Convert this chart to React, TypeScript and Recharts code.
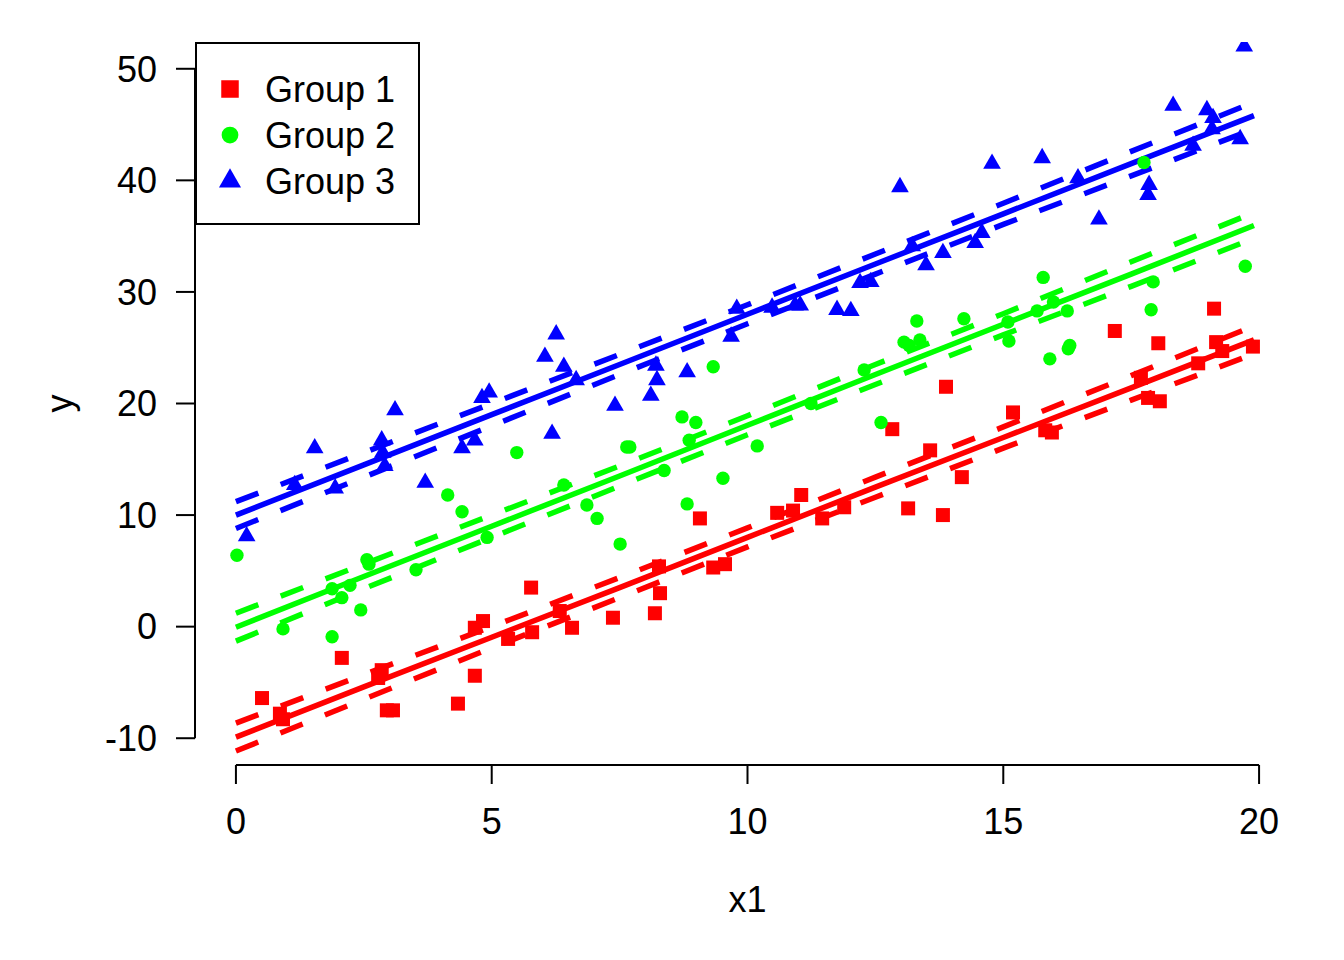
import { ScatterChart, Scatter, XAxis, YAxis, ReferenceLine, Legend } from 'recharts';

const FONT = '"Liberation Sans", Arial, sans-serif';
const FS = 36;

const xTicks = [0, 5, 10, 15, 20];
const yTicks = [-10, 0, 10, 20, 30, 40, 50];

const group1Points = [
  [0.51, -6.4], [0.86, -7.8], [0.92, -8.3], [2.07, -2.8], [2.85, -3.9], [2.78, -4.6],
  [2.95, -7.5], [3.07, -7.5], [4.34, -6.9], [4.67, -4.4], [4.67, -0.1], [4.83, 0.5],
  [5.32, -1.1], [5.77, 3.5], [5.79, -0.5], [6.33, 1.4], [6.57, -0.1], [7.37, 0.8],
  [8.19, 1.2], [8.29, 3.0], [8.27, 5.4], [9.07, 9.7], [9.33, 5.3], [9.56, 5.6],
  [10.58, 10.2], [10.89, 10.4], [11.05, 11.8], [11.46, 9.7], [11.89, 10.7], [12.83, 17.7],
  [13.14, 10.6], [13.57, 15.8], [13.82, 10.0], [13.88, 21.5], [14.19, 13.4], [15.19, 19.2],
  [15.82, 17.6], [15.95, 17.4], [17.18, 26.5], [17.69, 22.3], [17.83, 20.5], [18.03, 25.4],
  [18.06, 20.2], [18.81, 23.6], [19.12, 28.5], [19.16, 25.5], [19.28, 24.7], [19.88, 25.1],
];

const group2Points = [
  [0.02, 6.4], [0.92, -0.2], [1.88, -0.9], [2.44, 1.5], [1.88, 3.4], [2.07, 2.6],
  [2.23, 3.7], [2.56, 6.0], [2.6, 5.6], [3.52, 5.1], [4.14, 11.8], [4.42, 10.3],
  [4.91, 8.0], [5.49, 15.6], [6.41, 12.7], [6.86, 10.9], [7.06, 9.7], [7.51, 7.4],
  [7.64, 16.1], [7.7, 16.1], [8.37, 14.0], [8.72, 18.8], [8.99, 18.3], [8.86, 16.7],
  [8.82, 11.0], [9.33, 23.3], [9.52, 13.3], [10.19, 16.2], [11.24, 20.0], [12.28, 23.0],
  [12.61, 18.3], [13.06, 25.5], [13.16, 25.2], [13.37, 25.7], [13.31, 27.4], [14.23, 27.6],
  [15.09, 27.3], [15.11, 25.6], [15.78, 31.3], [15.98, 29.1], [15.66, 28.3], [16.25, 28.3],
  [15.91, 24.0], [16.27, 24.9], [16.3, 25.2], [17.93, 30.9], [17.89, 28.4], [17.75, 41.6],
  [19.73, 32.3],
];

const group3Points = [
  [0.21, 8.1], [1.15, 12.7], [1.54, 16.0], [1.94, 12.4], [2.85, 16.7], [2.87, 15.6],
  [2.91, 14.4], [3.11, 19.4], [3.7, 12.9], [4.42, 16.0], [4.67, 16.7], [4.81, 20.5],
  [4.95, 21.0], [6.04, 24.2], [6.18, 17.3], [6.26, 26.2], [6.41, 23.3], [6.65, 22.1],
  [7.41, 19.8], [8.11, 20.7], [8.23, 22.1], [8.21, 23.4], [8.82, 22.8], [9.68, 26.0],
  [9.79, 28.5], [10.48, 28.6], [10.93, 28.8], [11.03, 28.8], [11.75, 28.4], [12.02, 28.3],
  [12.2, 30.8], [12.41, 30.9], [12.98, 39.4], [13.22, 34.1], [13.49, 32.4], [13.82, 33.5],
  [14.45, 34.4], [14.58, 35.3], [14.78, 41.5], [15.76, 42.0], [16.46, 40.2], [16.87, 36.5],
  [17.83, 38.7], [17.85, 39.6], [18.32, 46.7], [18.71, 43.1], [18.98, 46.3], [19.1, 45.6],
  [19.08, 44.6], [19.63, 43.7], [19.71, 52.0],
];

const fitX = [0, 2.5, 5, 7.5, 10, 12.5, 15, 17.5, 19.9];
const group1Fit = [-9.9, -5.4, -0.95, 3.5, 8.0, 12.5, 16.95, 21.4, 25.7];
const group1Upper = [-8.65, -4.3, 0.0, 4.4, 8.85, 13.4, 17.9, 22.5, 26.95];
const group1Lower = [-11.15, -6.5, -1.9, 2.6, 7.15, 11.6, 16.0, 20.3, 24.45];
const group2Fit = [-0.05, 4.5, 9.0, 13.5, 18.05, 22.6, 27.1, 31.6, 35.95];
const group2Upper = [1.2, 5.6, 10.0, 14.4, 18.9, 23.5, 28.05, 32.7, 37.1];
const group2Lower = [-1.3, 3.4, 8.0, 12.6, 17.2, 21.7, 26.15, 30.5, 34.8];
const group3Fit = [10.0, 14.5, 19.0, 23.5, 28.0, 32.5, 37.0, 41.5, 45.8];
const group3Upper = [11.2, 15.6, 20.0, 24.4, 28.85, 33.4, 37.95, 42.6, 47.0];
const group3Lower = [8.8, 13.4, 18.0, 22.6, 27.15, 31.6, 36.05, 40.4, 44.6];

const groups = [
  { name: 'Group 1', color: '#FF0000', symbol: 'square', points: group1Points, fit: group1Fit, upper: group1Upper, lower: group1Lower },
  { name: 'Group 2', color: '#00FF00', symbol: 'circle', points: group2Points, fit: group2Fit, upper: group2Upper, lower: group2Lower },
  { name: 'Group 3', color: '#0000FF', symbol: 'triangle', points: group3Points, fit: group3Fit, upper: group3Upper, lower: group3Lower },
];

const toXY = (pts: number[][]) => pts.map(([x, y]) => ({ x, y }));
const toLine = (ys: number[]) => fitX.map((x, i) => ({ x, y: ys[i] }));

function Marker({ kind, cx, cy, color, scale = 1 }: any) {
  if (kind === 'square') {
    const h = 7 * scale;
    return <rect x={cx - h} y={cy - h} width={2 * h} height={2 * h} fill={color} />;
  }
  if (kind === 'circle') {
    return <circle cx={cx} cy={cy} r={6.7 * scale} fill={color} />;
  }
  const r = 10.2 * scale;
  const w = r * 0.866;
  return <polygon points={`${cx},${cy - r} ${cx + w},${cy + r / 2} ${cx - w},${cy + r / 2}`} fill={color} />;
}

function LegendBox() {
  return (
    <svg width={225} height={183} style={{ display: 'block' }}>
      <rect x={1} y={1} width={223} height={181} fill="white" stroke="black" strokeWidth={2} />
      {groups.map((g, i) => (
        <g key={g.name}>
          <Marker kind={g.symbol} cx={35} cy={47 + i * 46} color={g.color} scale={1.25} />
          <text x={70} y={47 + i * 46 + 13} fontSize={FS} fontFamily={FONT} fill="black">
            {g.name}
          </text>
        </g>
      ))}
    </svg>
  );
}

function YLabel({ viewBox }: any) {
  const cx = 72;
  const cy = viewBox.y + viewBox.height / 2;
  return (
    <text x={cx} y={cy} transform={`rotate(-90, ${cx}, ${cy})`} textAnchor="middle" fontSize={FS} fontFamily={FONT} fill="black">
      y
    </text>
  );
}

const tickStyle = { fill: 'black', fontSize: FS, fontFamily: FONT };
const LW = 5.5;

export default function App() {
  return (
    <div style={{ position: 'absolute', left: 0, top: 0, background: 'white' }}>
      <ScatterChart width={1344} height={960} margin={{ top: 42, right: 44, bottom: 0, left: 0 }}>
        <XAxis
          type="number"
          dataKey="x"
          domain={[-0.8, 20.8]}
          ticks={xTicks}
          allowDataOverflow
          axisLine={false}
          tickLine={{ stroke: 'black', strokeWidth: 2 }}
          tickSize={19}
          tickMargin={24}
          tick={tickStyle}
          height={195}
          label={{ value: 'x1', position: 'insideBottom', offset: 48, fontSize: FS, fontFamily: FONT, fill: 'black' }}
        />
        <YAxis
          type="number"
          dataKey="y"
          domain={[-12.4, 52.4]}
          ticks={yTicks}
          allowDataOverflow
          axisLine={false}
          tickLine={{ stroke: 'black', strokeWidth: 2 }}
          tickSize={19}
          tickMargin={19}
          tick={tickStyle}
          width={195}
          label={{ content: (p: any) => <YLabel {...p} /> }}
        />
        <ReferenceLine
          segment={[{ x: 0, y: -12.4 }, { x: 20, y: -12.4 }]}
          stroke="black"
          strokeWidth={2}
          ifOverflow="visible"
        />
        <ReferenceLine
          segment={[{ x: -0.8, y: -10 }, { x: -0.8, y: 50 }]}
          stroke="black"
          strokeWidth={2}
          ifOverflow="visible"
        />
        {groups.map((g) => [
          <Scatter
            key={g.name + '-fit'}
            data={toLine(g.fit)}
            fill={g.color}
            line={{ stroke: g.color, strokeWidth: LW }}
            shape={() => <g />}
            legendType="none"
            isAnimationActive={false}
          />,
          <Scatter
            key={g.name + '-up'}
            data={toLine(g.upper)}
            fill={g.color}
            line={{ stroke: g.color, strokeWidth: LW, strokeDasharray: '24 24' }}
            shape={() => <g />}
            legendType="none"
            isAnimationActive={false}
          />,
          <Scatter
            key={g.name + '-lo'}
            data={toLine(g.lower)}
            fill={g.color}
            line={{ stroke: g.color, strokeWidth: LW, strokeDasharray: '24 24' }}
            shape={() => <g />}
            legendType="none"
            isAnimationActive={false}
          />,
        ])}
        {groups.map((g) => (
          <Scatter
            key={g.name}
            name={g.name}
            data={toXY(g.points)}
            fill={g.color}
            shape={(p: any) => <Marker kind={g.symbol} cx={p.cx} cy={p.cy} color={g.color} />}
            isAnimationActive={false}
          />
        ))}
        <Legend
          layout="vertical"
          align="center"
          verticalAlign="middle"
          wrapperStyle={{ left: 195, top: 42, width: 225, height: 183 }}
          content={() => <LegendBox />}
        />
      </ScatterChart>
    </div>
  );
}
